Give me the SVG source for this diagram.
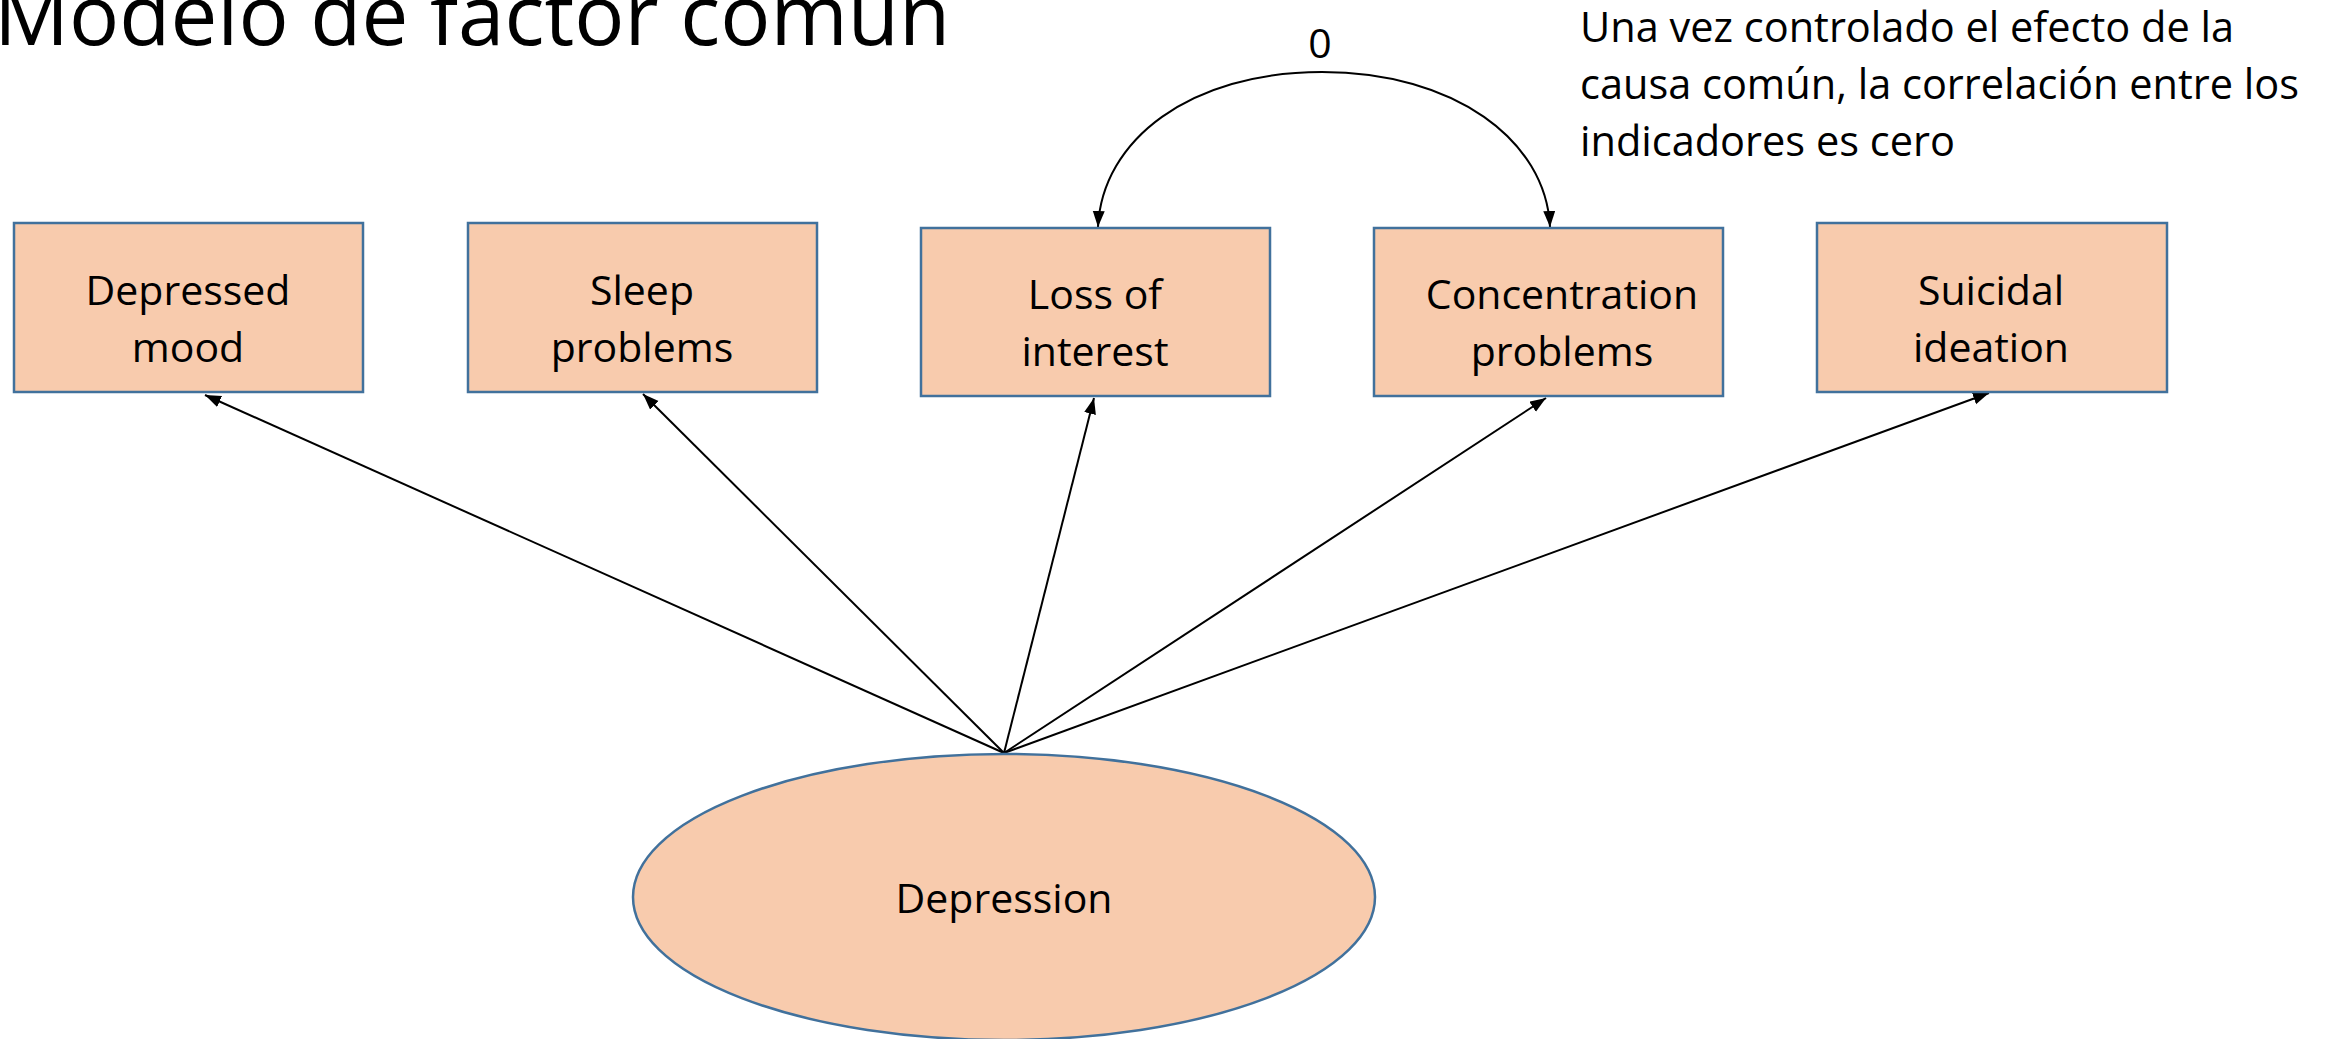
<svg xmlns="http://www.w3.org/2000/svg" width="2335" height="1039" viewBox="0 0 2335 1039">
  <style>
    .box { fill: #F8CBAD; stroke: #41719C; stroke-width: 2.5; }
    .lbl { font-family: "Open Sans", "Noto Sans", sans-serif; font-size: 41px; fill: #000; text-anchor: middle; }
    .note { font-family: "Open Sans", "Noto Sans", sans-serif; font-size: 41.5px; fill: #000; }
    .title { font-family: "Open Sans", "Noto Sans", sans-serif; font-size: 83.5px; fill: #000; }
    .edge { fill: none; stroke: #000; stroke-width: 2; marker-end: url(#arrow); }
  </style>
  <defs>
    <marker id="arrow" markerUnits="userSpaceOnUse" markerWidth="18" markerHeight="14" refX="16" refY="6" orient="auto">
      <path d="M0,0 L16,6 L0,12 Z" fill="#000"/>
    </marker>
  </defs>

  <rect width="2335" height="1039" fill="#fff"/>

  <!-- slide title, running off the top edge of the slide -->
  <text class="title" x="-6" y="45">Modelo de factor común</text>

  <text class="note" x="1580" y="42">Una vez controlado el efecto de la</text>
  <text class="note" x="1580" y="99">causa común, la correlación entre los</text>
  <text class="note" x="1580" y="156">indicadores es cero</text>

  <g id="connectors">
    <path class="edge" d="M1004,753 L205,395"/>
    <path class="edge" d="M1004,753 L643,394"/>
    <path class="edge" d="M1004,753 L1094,398"/>
    <path class="edge" d="M1004,753 L1546,398"/>
    <path class="edge" d="M1004,753 L1989,393"/>
    <!-- residual covariance between two indicators, fixed at zero -->
    <path class="edge" d="M1322,72 C1190,72 1102,140 1098,227"/>
    <path class="edge" d="M1322,72 C1454,72 1546,140 1550,227"/>
    <text class="lbl" x="1320" y="58">0</text>
  </g>

  <g id="depressed-mood">
    <rect class="box" x="14" y="223" width="349" height="169"/>
    <text class="lbl" x="188" y="305">Depressed</text>
    <text class="lbl" x="188" y="362">mood</text>
  </g>

  <g id="sleep-problems">
    <rect class="box" x="468" y="223" width="349" height="169"/>
    <text class="lbl" x="642" y="305">Sleep</text>
    <text class="lbl" x="642" y="362">problems</text>
  </g>

  <g id="loss-of-interest">
    <rect class="box" x="921" y="228" width="349" height="168"/>
    <text class="lbl" x="1095" y="309">Loss of</text>
    <text class="lbl" x="1095" y="366">interest</text>
  </g>

  <g id="concentration-problems">
    <rect class="box" x="1374" y="228" width="349" height="168"/>
    <text class="lbl" x="1562" y="309">Concentration</text>
    <text class="lbl" x="1562" y="366">problems</text>
  </g>

  <g id="suicidal-ideation">
    <rect class="box" x="1817" y="223" width="350" height="169"/>
    <text class="lbl" x="1991" y="305">Suicidal</text>
    <text class="lbl" x="1991" y="362">ideation</text>
  </g>

  <g id="depression">
    <ellipse class="box" cx="1004" cy="897" rx="371" ry="143"/>
    <text class="lbl" x="1004" y="913">Depression</text>
  </g>
</svg>
